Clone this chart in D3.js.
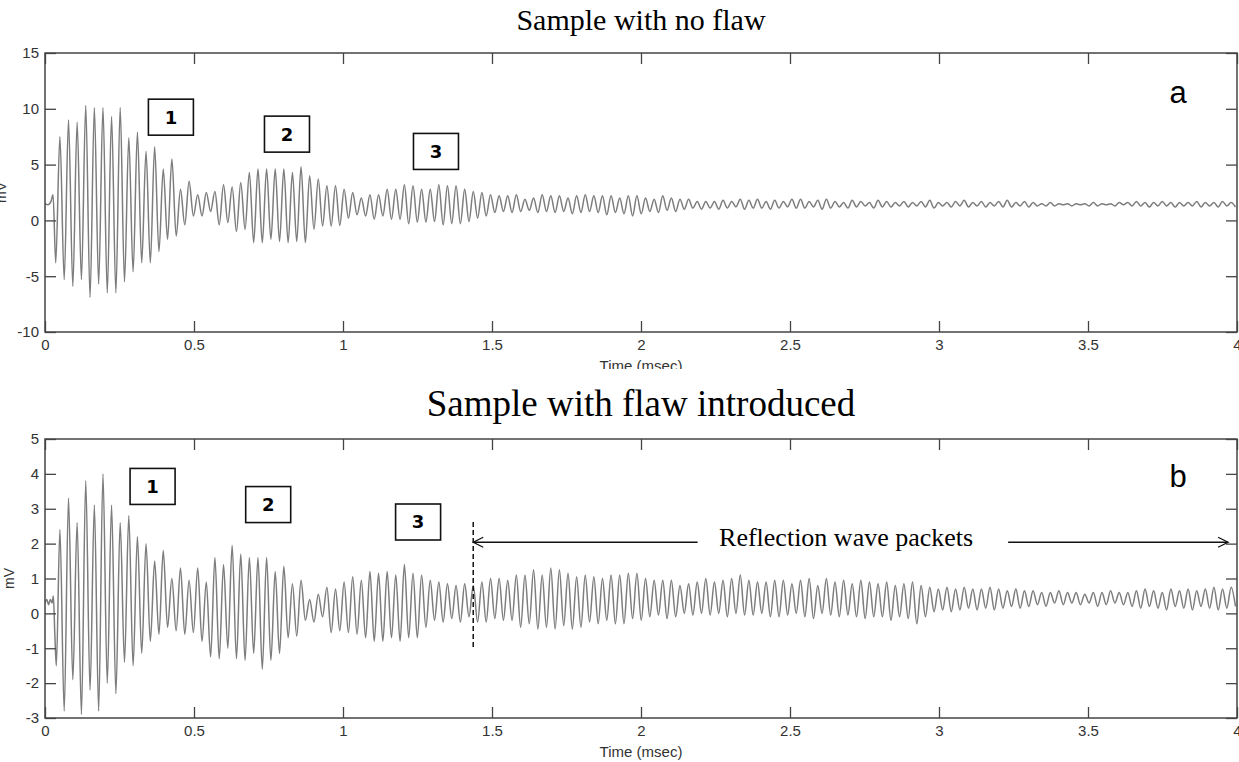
<!DOCTYPE html>
<html>
<head>
<meta charset="utf-8">
<script src="https://cdn.jsdelivr.net/npm/d3@7"></script>
<style>
  body { margin: 0; background: #fff; }
  svg { display: block; }
</style>
</head>
<body>
<svg id="chart" width="1239" height="762"></svg>
<script>
// axis ticks
const xTicks = [0, 0.5, 1, 1.5, 2, 2.5, 3, 3.5, 4];
const xTickLabels = ["0", "0.5", "1", "1.5", "2", "2.5", "3", "3.5", "4"];
const yTicksA = [-10, -5, 0, 5, 10, 15];
const yTicksB = [-3, -2, -1, 0, 1, 2, 3, 4, 5];

// sampling of the waveform: one peak and one trough per cycle (ms)
const cycleStart = 0.05;
const cyclePeriod = 0.0289;

// panel a - sample with no flaw (mV)
const leadTimesA = [0, 0.01, 0.02, 0.027, 0.036];
const leadValuesA = [1.5, 1.4, 1.7, 2.3, -3.8];
const peaksA = [
  7.5, 9.0, 8.8, 10.3, 10.1, 10.1, 9.3, 10.1, 7.4, 7.9, 6.2, 6.6, 4.6, 5.5, 2.8, 3.5, 2.3, 2.5, 2.6, 3.2, 3.0, 3.4,
  4.3, 4.6, 4.6, 4.6, 4.6, 4.3, 4.8, 4.0, 3.7, 3.1, 3.1, 2.8, 2.5, 2.0, 2.3, 2.3, 2.8, 2.8, 3.2, 3.1, 2.8, 2.8, 3.2, 3.1,
  3.1, 2.8, 2.6, 2.5, 2.3, 2.2, 2.2, 2.3, 1.9, 2.0, 2.3, 2.2, 2.2, 2.0, 2.2, 2.3, 2.2, 2.2, 2.2, 2.0,
  2.2, 2.2, 2.0, 1.9, 2.2, 2.0, 1.9, 1.9, 1.7, 1.7, 1.7, 1.8, 1.7, 1.9, 1.8, 1.9, 1.7, 1.8, 1.7, 1.9,
  1.9, 1.7, 1.8, 1.9, 1.7, 1.6, 1.8, 1.7, 1.6, 1.8, 1.7, 1.6, 1.7, 1.6, 1.7, 1.8, 1.6, 1.6, 1.7, 1.8, 1.6, 1.7, 1.6, 1.7,
  1.8, 1.6, 1.7, 1.6, 1.5, 1.6, 1.5, 1.5, 1.5, 1.5, 1.6, 1.5, 1.5, 1.6, 1.6, 1.7, 1.6, 1.6, 1.7, 1.6, 1.6, 1.6, 1.7, 1.6, 1.6, 1.7, 1.6
];
const troughsA = [
  -5.3, -5.9, -5.3, -6.9, -5.7, -6.5, -6.5, -5.5, -4.6, -3.8, -3.8, -2.8, -1.7, -1.4, -0.4, 0.4, 0.4, 0.8, -0.4, -0.2, -1.0, -0.8,
  -2.0, -2.0, -1.7, -1.9, -2.0, -1.9, -2.0, -0.8, -0.5, -0.5, -0.45, 0.2, 0.5, 0.4, 0.1, 0.4, 0.1, 0.1, -0.3, -0.15, -0.15, -0.1, -0.4, -0.3,
  -0.3, -0.1, 0.2, 0.4, 0.7, 0.8, 0.7, 0.8, 0.9, 0.7, 0.8, 0.7, 0.8, 0.6, 0.7, 0.8, 0.7, 0.5, 0.7, 0.6,
  0.4, 0.6, 0.8, 0.7, 0.9, 0.8, 1.0, 1.1, 1.0, 1.1, 1.0, 1.1, 1.2, 1.0, 1.1, 1.1, 1.0, 1.1, 1.2, 1.1,
  1.1, 1.2, 1.0, 1.1, 1.2, 1.1, 1.2, 1.3, 1.1, 1.2, 1.2, 1.3, 1.2, 1.3, 1.2, 1.1, 1.3, 1.2, 1.3, 1.2, 1.3, 1.2, 1.3, 1.2,
  1.2, 1.3, 1.2, 1.3, 1.3, 1.3, 1.4, 1.3, 1.4, 1.3, 1.3, 1.4, 1.3, 1.4, 1.3, 1.3, 1.2, 1.3, 1.3, 1.2, 1.3, 1.3, 1.2, 1.3, 1.2, 1.3, 1.2
];

// panel b - sample with flaw introduced (mV)
const leadTimesB = [0, 0.006, 0.012, 0.018, 0.024, 0.028, 0.033, 0.038];
const leadValuesB = [0.3, 0.4, 0.25, 0.4, 0.3, 0.5, -0.6, -1.5];
const peaksB = [
  2.4, 3.3, 2.6, 3.8, 3.1, 4.0, 3.1, 2.6, 2.8, 2.2, 2.0, 1.5, 1.8, 1.0, 1.3, 0.95, 1.3, 0.9, 1.6, 1.4, 1.95, 1.7,
  1.6, 1.6, 1.6, 1.2, 1.35, 0.85, 0.95, 0.4, 0.55, 0.75, 0.7, 0.9, 1.05, 0.95, 1.2, 1.15, 1.2, 1.1, 1.4, 1.15, 1.1, 0.95, 0.9,
  0.85,
  0.8, 0.85, 0.8, 0.9, 1.0, 1.0, 0.95, 1.1, 1.1, 1.25, 1.1, 1.3, 1.25, 1.15, 1.05, 1.1, 1.05, 1.0, 1.1, 1.1, 1.15, 1.15,
  1.0, 0.95, 0.95, 0.95, 0.8, 0.85, 0.9, 1.0, 0.9, 0.95, 1.0, 1.1, 0.95, 0.9, 0.9, 0.95, 0.95, 0.85, 0.95, 1.0, 0.8, 1.0,
  0.9, 0.95, 0.85, 0.95, 0.9, 0.85, 0.9, 0.8, 0.85, 0.9, 0.8,
  0.75, 0.7, 0.75, 0.7, 0.75, 0.7, 0.7, 0.75, 0.7, 0.65, 0.7, 0.65,
  0.65, 0.6, 0.6, 0.65, 0.6, 0.6, 0.55, 0.6, 0.6, 0.65, 0.6, 0.6,
  0.65, 0.7, 0.65, 0.6, 0.7, 0.65, 0.7, 0.65, 0.7, 0.75, 0.7, 0.75
];
const troughsB = [
  -2.8, -1.9, -2.9, -2.2, -2.8, -2.0, -2.3, -1.4, -1.5, -1.15, -0.8, -0.6, -0.4, -0.5, -0.6, -0.55, -0.8, -1.25, -1.3, -1.0, -1.3, -1.35,
  -1.15, -1.6, -1.35, -1.15, -0.7, -0.65, -0.2, -0.25, -0.1, -0.55, -0.5, -0.55, -0.6, -0.7, -0.8, -0.8, -0.7, -0.8, -0.7, -0.7, -0.4, -0.2, -0.25,
  -0.15,
  -0.25, -0.1, -0.25, -0.25, -0.15, -0.2, -0.2, -0.4, -0.3, -0.45, -0.4, -0.45, -0.35, -0.45, -0.4, -0.25, -0.3, -0.2, -0.3, -0.3, -0.15, -0.2,
  -0.1, -0.05, -0.15, -0.1, 0.0, -0.05, 0.0, -0.05, 0.0, -0.1, 0.0, -0.05, -0.05, 0.0, -0.1, -0.1, -0.05, 0.0, -0.1, -0.15, 0.0, -0.05,
  -0.1, -0.05, -0.1, -0.15, -0.1, -0.1, -0.2, -0.1, -0.15, -0.3, -0.1,
  0.05, 0.1, 0.05, 0.1, 0.15, 0.1, 0.15, 0.1, 0.15, 0.2, 0.15, 0.2,
  0.25, 0.2, 0.3, 0.25, 0.3, 0.25, 0.3, 0.2, 0.25, 0.3, 0.25, 0.2,
  0.15, 0.2, 0.15, 0.1, 0.2, 0.15, 0.1, 0.2, 0.15, 0.1, 0.15, 0.2
];

// numbered wave packet boxes [label, time ms, mV]
const boxesA = [["1", 0.4225, 9.25], ["2", 0.812, 7.73], ["3", 1.312, 6.18]];
const boxesB = [["1", 0.361, 3.64], ["2", 0.749, 3.12], ["3", 1.252, 2.62]];

function buildWave(leadT, leadV, peaks, troughs) {
  const pts = leadT.map((t, i) => [t, leadV[i]]);
  peaks.forEach((p, i) => {
    pts.push([cycleStart + i * cyclePeriod, p]);
    pts.push([cycleStart + (i + 0.5) * cyclePeriod, troughs[i]]);
  });
  return pts;
}

const svg = d3.select("#chart");
const left = 45, right = 1237;
const axisColor = "#444";
const sans = "'Liberation Sans', Arial, sans-serif";
const serif = "'Liberation Serif', 'Times New Roman', serif";

function drawPanel(cfg) {
  const x = d3.scaleLinear().domain([0, 4]).range([left, right]);
  const y = d3.scaleLinear().domain(cfg.yDomain).range([cfg.bottom, cfg.top]);

  const g = svg.append("g");
  if (cfg.clipId) g.attr("clip-path", `url(#${cfg.clipId})`);

  // title
  g.append("text")
    .attr("x", 641).attr("y", cfg.titleY)
    .attr("text-anchor", "middle")
    .style("font-family", serif)
    .style("font-size", cfg.titleSize + "px")
    .text(cfg.title);

  const clipName = cfg.name + "-plot";
  svg.append("clipPath").attr("id", clipName)
    .append("rect")
    .attr("x", left).attr("y", cfg.top)
    .attr("width", right - left).attr("height", cfg.bottom - cfg.top);

  // waveform
  const line = d3.line()
    .x(d => x(d[0]))
    .y(d => y(d[1]))
    .curve(d3.curveMonotoneX);
  g.append("path")
    .datum(cfg.wave)
    .attr("clip-path", `url(#${clipName})`)
    .attr("fill", "none")
    .attr("stroke", "#7d7d7d")
    .attr("stroke-width", 1.5)
    .attr("d", line);

  // axes, ticks pointing inwards
  const styleAxis = sel => {
    sel.select(".domain").remove();
    sel.selectAll("line").attr("stroke", axisColor).attr("stroke-width", 1.3);
    sel.selectAll("text")
      .attr("fill", "#333")
      .style("font-family", sans)
      .style("font-size", "15px");
  };
  g.append("g").attr("transform", `translate(0,${cfg.bottom})`)
    .call(d3.axisBottom(x).tickValues(xTicks).tickFormat((d, i) => xTickLabels[i]).tickSize(-11).tickPadding(7))
    .call(styleAxis);
  g.append("g").attr("transform", `translate(0,${cfg.top})`)
    .call(d3.axisTop(x).tickValues(xTicks).tickFormat("").tickSize(-11))
    .call(styleAxis);
  g.append("g").attr("transform", `translate(${left},0)`)
    .call(d3.axisLeft(y).tickValues(cfg.yTicks).tickFormat(d => String(d)).tickSize(-11).tickPadding(6))
    .call(styleAxis);
  g.append("g").attr("transform", `translate(${right},0)`)
    .call(d3.axisRight(y).tickValues(cfg.yTicks).tickFormat("").tickSize(-11))
    .call(styleAxis);

  // frame
  g.append("rect")
    .attr("x", left).attr("y", cfg.top)
    .attr("width", right - left).attr("height", cfg.bottom - cfg.top)
    .attr("fill", "none").attr("stroke", axisColor).attr("stroke-width", 1.5);

  // axis labels
  g.append("text")
    .attr("x", 641).attr("y", cfg.bottom + 39)
    .attr("text-anchor", "middle")
    .attr("fill", "#333")
    .style("font-family", sans)
    .style("font-size", "15px")
    .text("Time (msec)");
  g.append("text")
    .attr("transform", `translate(${cfg.mvX},${(cfg.top + cfg.bottom) / 2}) rotate(-90)`)
    .attr("text-anchor", "middle")
    .attr("fill", "#333")
    .style("font-family", sans)
    .style("font-size", "14px")
    .text("mV");

  // panel letter
  g.append("text")
    .attr("x", 1178).attr("y", cfg.letterY)
    .attr("text-anchor", "middle")
    .style("font-family", sans)
    .style("font-size", "31px")
    .text(cfg.letter);

  // numbered boxes
  const bw = 45, bh = 36;
  const box = g.selectAll(".box").data(cfg.boxes).enter().append("g")
    .attr("transform", d => `translate(${x(d[1])},${y(d[2])})`);
  box.append("rect")
    .attr("x", -bw / 2).attr("y", -bh / 2).attr("width", bw).attr("height", bh)
    .attr("fill", "#fff").attr("stroke", "#111").attr("stroke-width", 1.6);
  box.append("text")
    .attr("text-anchor", "middle").attr("dy", "0.36em")
    .style("font-family", "'DejaVu Sans', Verdana, sans-serif")
    .style("font-weight", "bold")
    .style("font-size", "18px")
    .text(d => d[0]);

  return { x, y, g };
}

svg.append("clipPath").attr("id", "topClip")
  .append("rect").attr("x", 0).attr("y", 0).attr("width", 1239).attr("height", 369);

drawPanel({
  name: "a", title: "Sample with no flaw", titleSize: 30, titleY: 30, letter: "a", letterY: 103,
  top: 53, bottom: 332, yDomain: [-10, 15], yTicks: yTicksA, mvX: 6, clipId: "topClip",
  wave: buildWave(leadTimesA, leadValuesA, peaksA, troughsA), boxes: boxesA
});

const pb = drawPanel({
  name: "b", title: "Sample with flaw introduced", titleSize: 37, titleY: 416, letter: "b", letterY: 487,
  top: 439, bottom: 718, yDomain: [-3, 5], yTicks: yTicksB, mvX: 14,
  wave: buildWave(leadTimesB, leadValuesB, peaksB, troughsB), boxes: boxesB
});

// reflection annotation in panel b
const flawTime = 1.437;
const arrowY = pb.y(2.04);
pb.g.append("line")
  .attr("x1", pb.x(flawTime)).attr("x2", pb.x(flawTime))
  .attr("y1", pb.y(2.62)).attr("y2", pb.y(-1.01))
  .attr("stroke", "#111").attr("stroke-width", 1.5).attr("stroke-dasharray", "5,3");

const arrows = [[2.19, flawTime], [3.232, 3.97]];
arrows.forEach(a => {
  const x1 = pb.x(a[0]), x2 = pb.x(a[1]);
  const dir = x2 > x1 ? -1 : 1;
  pb.g.append("line")
    .attr("x1", x1).attr("x2", x2).attr("y1", arrowY).attr("y2", arrowY)
    .attr("stroke", "#111").attr("stroke-width", 1.3);
  pb.g.append("path")
    .attr("d", `M${x2 + dir * 10},${arrowY - 5}L${x2},${arrowY}L${x2 + dir * 10},${arrowY + 5}`)
    .attr("fill", "none").attr("stroke", "#111").attr("stroke-width", 1.3);
});

pb.g.append("text")
  .attr("x", pb.x(2.262)).attr("y", pb.y(1.93))
  .style("font-family", serif)
  .style("font-size", "26px")
  .text("Reflection wave packets");
</script>
</body>
</html>
